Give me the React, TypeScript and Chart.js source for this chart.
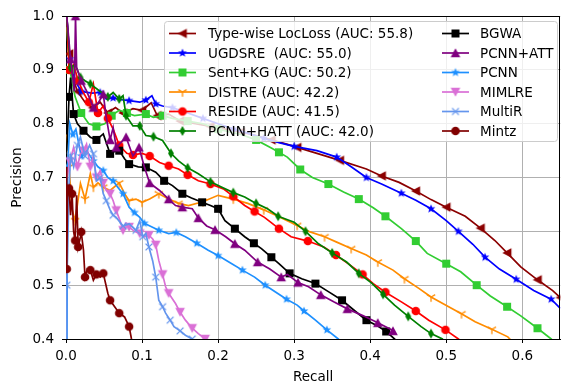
import React, { useEffect, useRef } from 'react';
import { Chart, registerables } from 'chart.js';

Chart.register(...registerables);

const FONT = "'DejaVu Sans', 'Liberation Sans', sans-serif";

// ---------- data (recall, precision) ----------
const typeWiseRecall = [0.001, 0.004, 0.008, 0.015, 0.025, 0.035, 0.045, 0.055, 0.065, 0.075, 0.088, 0.1, 0.112, 0.12, 0.135, 0.15, 0.17, 0.19, 0.21, 0.23, 0.25, 0.27, 0.29, 0.304, 0.33, 0.36, 0.395, 0.415, 0.438, 0.46, 0.48, 0.5, 0.525, 0.545, 0.564, 0.58, 0.598, 0.62, 0.64, 0.65];
const typeWisePrecision = [1.0, 0.93, 0.89, 0.86, 0.84, 0.83, 0.84, 0.82, 0.83, 0.82, 0.828, 0.825, 0.839, 0.815, 0.818, 0.805, 0.8, 0.795, 0.79, 0.785, 0.778, 0.77, 0.762, 0.756, 0.745, 0.732, 0.716, 0.703, 0.691, 0.675, 0.659, 0.645, 0.628, 0.606, 0.583, 0.56, 0.534, 0.51, 0.49, 0.477];

const ugdsreRecall = [0.001, 0.005, 0.012, 0.02, 0.034, 0.045, 0.053, 0.062, 0.07, 0.083, 0.097, 0.105, 0.113, 0.118, 0.127, 0.14, 0.16, 0.18, 0.2, 0.22, 0.24, 0.26, 0.28, 0.3, 0.33, 0.356, 0.375, 0.395, 0.415, 0.441, 0.46, 0.48, 0.5, 0.516, 0.535, 0.551, 0.57, 0.592, 0.615, 0.638, 0.65];
const ugdsrePrecision = [1.0, 0.92, 0.88, 0.86, 0.857, 0.858, 0.846, 0.848, 0.845, 0.843, 0.84, 0.844, 0.852, 0.837, 0.833, 0.83, 0.82, 0.81, 0.8, 0.79, 0.782, 0.773, 0.765, 0.758, 0.75, 0.738, 0.72, 0.7, 0.688, 0.671, 0.658, 0.642, 0.62, 0.6, 0.576, 0.552, 0.53, 0.511, 0.49, 0.474, 0.457];

const sentKgRecall = [0.001, 0.005, 0.012, 0.02, 0.03, 0.04, 0.051, 0.06, 0.07, 0.08, 0.09, 0.105, 0.115, 0.127, 0.14, 0.16, 0.18, 0.2, 0.23, 0.25, 0.27, 0.28, 0.291, 0.308, 0.324, 0.345, 0.365, 0.385, 0.404, 0.42, 0.441, 0.46, 0.475, 0.5, 0.519, 0.54, 0.558, 0.58, 0.598, 0.62, 0.638, 0.645];
const sentKgPrecision = [0.98, 0.9, 0.85, 0.82, 0.8, 0.795, 0.8, 0.815, 0.825, 0.82, 0.815, 0.818, 0.812, 0.815, 0.81, 0.805, 0.8, 0.79, 0.78, 0.77, 0.755, 0.747, 0.738, 0.715, 0.7, 0.688, 0.673, 0.66, 0.644, 0.628, 0.605, 0.582, 0.559, 0.54, 0.525, 0.5, 0.48, 0.46, 0.443, 0.42, 0.4, 0.39];

const distreRecall = [0.001, 0.004, 0.008, 0.012, 0.019, 0.025, 0.032, 0.036, 0.042, 0.049, 0.058, 0.07, 0.077, 0.083, 0.092, 0.1, 0.11, 0.122, 0.135, 0.148, 0.161, 0.18, 0.2, 0.22, 0.239, 0.26, 0.282, 0.304, 0.321, 0.34, 0.356, 0.375, 0.395, 0.41, 0.43, 0.445, 0.464, 0.48, 0.499, 0.52, 0.538, 0.56, 0.581, 0.59];
const distrePrecision = [0.78, 0.72, 0.64, 0.62, 0.689, 0.66, 0.707, 0.682, 0.69, 0.682, 0.676, 0.69, 0.67, 0.657, 0.66, 0.654, 0.66, 0.67, 0.66, 0.652, 0.648, 0.655, 0.667, 0.66, 0.652, 0.64, 0.626, 0.611, 0.599, 0.59, 0.58, 0.568, 0.556, 0.543, 0.528, 0.512, 0.494, 0.478, 0.463, 0.447, 0.432, 0.418, 0.404, 0.39];

const resideRecall = [0.001, 0.004, 0.01, 0.016, 0.022, 0.03, 0.036, 0.042, 0.049, 0.055, 0.062, 0.07, 0.08, 0.088, 0.1, 0.11, 0.123, 0.135, 0.148, 0.16, 0.174, 0.19, 0.207, 0.22, 0.235, 0.248, 0.261, 0.28, 0.296, 0.318, 0.339, 0.355, 0.371, 0.39, 0.404, 0.42, 0.441, 0.46, 0.477, 0.499, 0.516, 0.525];
const residePrecision = [1.0, 0.9, 0.91, 0.88, 0.86, 0.84, 0.874, 0.82, 0.833, 0.81, 0.79, 0.76, 0.745, 0.742, 0.745, 0.74, 0.728, 0.722, 0.716, 0.705, 0.694, 0.688, 0.679, 0.665, 0.648, 0.637, 0.626, 0.605, 0.59, 0.582, 0.571, 0.556, 0.54, 0.52, 0.503, 0.487, 0.469, 0.452, 0.435, 0.417, 0.4, 0.39];

const pcnnHattRecall = [0.001, 0.006, 0.012, 0.019, 0.025, 0.032, 0.045, 0.055, 0.062, 0.07, 0.075, 0.079, 0.088, 0.097, 0.105, 0.115, 0.127, 0.138, 0.148, 0.16, 0.174, 0.19, 0.205, 0.22, 0.235, 0.25, 0.265, 0.279, 0.3, 0.315, 0.332, 0.35, 0.369, 0.385, 0.402, 0.417, 0.432, 0.45, 0.467, 0.48, 0.495, 0.5];
const pcnnHattPrecision = [1.0, 0.904, 0.91, 0.886, 0.88, 0.874, 0.86, 0.85, 0.858, 0.846, 0.852, 0.815, 0.796, 0.796, 0.778, 0.776, 0.769, 0.745, 0.731, 0.718, 0.707, 0.692, 0.682, 0.672, 0.664, 0.652, 0.642, 0.628, 0.617, 0.6, 0.577, 0.56, 0.543, 0.522, 0.504, 0.483, 0.463, 0.442, 0.423, 0.41, 0.4, 0.39];

const bgwaRecall = [0.001, 0.004, 0.006, 0.01, 0.015, 0.023, 0.032, 0.04, 0.049, 0.058, 0.066, 0.07, 0.077, 0.083, 0.095, 0.105, 0.118, 0.129, 0.14, 0.153, 0.165, 0.179, 0.19, 0.2, 0.209, 0.222, 0.235, 0.247, 0.257, 0.27, 0.28, 0.294, 0.31, 0.328, 0.345, 0.363, 0.38, 0.395, 0.41, 0.421, 0.432, 0.44];
const bgwaPrecision = [0.75, 0.85, 0.886, 0.818, 0.8, 0.787, 0.775, 0.77, 0.781, 0.744, 0.75, 0.75, 0.735, 0.725, 0.72, 0.719, 0.71, 0.694, 0.685, 0.67, 0.662, 0.654, 0.648, 0.642, 0.62, 0.605, 0.59, 0.578, 0.568, 0.552, 0.54, 0.522, 0.512, 0.503, 0.488, 0.472, 0.452, 0.435, 0.424, 0.414, 0.4, 0.39];

const pcnnAttRecall = [0.001, 0.006, 0.011, 0.0125, 0.014, 0.02, 0.027, 0.036, 0.043, 0.049, 0.053, 0.058, 0.062, 0.066, 0.072, 0.079, 0.088, 0.096, 0.103, 0.11, 0.123, 0.135, 0.144, 0.153, 0.166, 0.174, 0.185, 0.196, 0.21, 0.222, 0.235, 0.252, 0.268, 0.283, 0.291, 0.305, 0.319, 0.335, 0.352, 0.37, 0.391, 0.41, 0.428, 0.43];
const pcnnAttPrecision = [1.0, 0.92, 0.86, 1.0, 0.904, 0.88, 0.861, 0.83, 0.84, 0.855, 0.812, 0.77, 0.793, 0.756, 0.765, 0.775, 0.74, 0.756, 0.72, 0.69, 0.676, 0.66, 0.648, 0.645, 0.642, 0.625, 0.61, 0.603, 0.59, 0.577, 0.565, 0.543, 0.53, 0.515, 0.52, 0.505, 0.497, 0.482, 0.469, 0.456, 0.443, 0.43, 0.417, 0.415];

const pcnnRecall = [0.0005, 0.002, 0.005, 0.009, 0.013, 0.02, 0.027, 0.036, 0.042, 0.049, 0.055, 0.062, 0.068, 0.075, 0.083, 0.09, 0.097, 0.103, 0.109, 0.122, 0.135, 0.145, 0.157, 0.172, 0.187, 0.2, 0.218, 0.232, 0.248, 0.262, 0.278, 0.29, 0.304, 0.313, 0.328, 0.343, 0.358, 0.365];
const pcnnPrecision = [0.0, 0.72, 0.8, 0.78, 0.79, 0.74, 0.75, 0.731, 0.72, 0.713, 0.7, 0.694, 0.682, 0.67, 0.645, 0.635, 0.626, 0.615, 0.611, 0.602, 0.596, 0.598, 0.59, 0.578, 0.565, 0.555, 0.54, 0.528, 0.515, 0.5, 0.485, 0.474, 0.463, 0.452, 0.435, 0.417, 0.4, 0.39];

const mimlreRecall = [0.001, 0.005, 0.01, 0.015, 0.019, 0.023, 0.027, 0.032, 0.036, 0.04, 0.045, 0.049, 0.053, 0.058, 0.062, 0.066, 0.071, 0.075, 0.079, 0.083, 0.09, 0.097, 0.103, 0.109, 0.114, 0.118, 0.122, 0.127, 0.131, 0.135, 0.144, 0.15, 0.157, 0.166, 0.174, 0.183, 0.19];
const mimlrePrecision = [0.7, 0.73, 0.756, 0.72, 0.744, 0.75, 0.762, 0.72, 0.74, 0.7, 0.713, 0.69, 0.676, 0.67, 0.657, 0.639, 0.62, 0.602, 0.615, 0.608, 0.6, 0.596, 0.59, 0.593, 0.586, 0.575, 0.546, 0.52, 0.497, 0.485, 0.466, 0.45, 0.435, 0.42, 0.41, 0.4, 0.39];

const multiRRecall = [0.0005, 0.001, 0.004, 0.006, 0.01, 0.015, 0.019, 0.025, 0.031, 0.036, 0.04, 0.045, 0.049, 0.053, 0.058, 0.062, 0.066, 0.075, 0.083, 0.092, 0.097, 0.101, 0.105, 0.109, 0.114, 0.118, 0.122, 0.127, 0.131, 0.137, 0.142, 0.15, 0.157, 0.166, 0.17];
const multiRPrecision = [0.0, 0.5, 0.68, 0.74, 0.72, 0.76, 0.775, 0.74, 0.76, 0.744, 0.694, 0.7, 0.67, 0.657, 0.64, 0.63, 0.626, 0.61, 0.614, 0.602, 0.62, 0.59, 0.596, 0.571, 0.545, 0.515, 0.472, 0.46, 0.448, 0.435, 0.423, 0.415, 0.407, 0.4, 0.39];

const mintzRecall = [0.0005, 0.001, 0.002, 0.004, 0.006, 0.008, 0.01, 0.012, 0.014, 0.016, 0.019, 0.02, 0.023, 0.025, 0.028, 0.032, 0.036, 0.04, 0.045, 0.049, 0.055, 0.058, 0.064, 0.07, 0.077, 0.083, 0.086, 0.088];
const mintzPrecision = [0.72, 0.53, 0.67, 0.68, 0.63, 0.67, 0.6, 0.583, 0.667, 0.571, 0.59, 0.599, 0.565, 0.515, 0.53, 0.528, 0.509, 0.52, 0.515, 0.522, 0.485, 0.472, 0.46, 0.448, 0.441, 0.423, 0.401, 0.39];

const seriesLabels = [
  'Type-wise LocLoss (AUC: 55.8)',
  'UGDSRE  (AUC: 55.0)',
  'Sent+KG (AUC: 50.2)',
  'DISTRE (AUC: 42.2)',
  'RESIDE (AUC: 41.5)',
  'PCNN+HATT (AUC: 42.0)',
  'BGWA',
  'PCNN+ATT',
  'PCNN',
  'MIMLRE',
  'MultiR',
  'Mintz',
];

const xTicks = [0, 0.1, 0.2, 0.3, 0.4, 0.5, 0.6];
const yTicks = [0.4, 0.5, 0.6, 0.7, 0.8, 0.9, 1.0];

// ---------- styles ----------
const seriesData = [
  [typeWiseRecall, typeWisePrecision],
  [ugdsreRecall, ugdsrePrecision],
  [sentKgRecall, sentKgPrecision],
  [distreRecall, distrePrecision],
  [resideRecall, residePrecision],
  [pcnnHattRecall, pcnnHattPrecision],
  [bgwaRecall, bgwaPrecision],
  [pcnnAttRecall, pcnnAttPrecision],
  [pcnnRecall, pcnnPrecision],
  [mimlreRecall, mimlrePrecision],
  [multiRRecall, multiRPrecision],
  [mintzRecall, mintzPrecision],
];
const colors = ['#8b0000', '#0000ff', '#32cd32', '#ff8c00', '#ff0000', '#008000', '#000000', '#800080', '#1e90ff', '#da70d6', '#6495ed', '#800000'];
const markers = ['triLeft', 'star', 'square', 'triDownLines', 'circle', 'thinDiamond', 'square', 'triUp', 'star', 'triDown', 'x', 'circle'];
const markEvery = [2, 2, 2, 2, 2, 2, 2, 2, 2, 2, 2, 2];

function makeMarker(shape: string, color: string): HTMLCanvasElement {
  const c = document.createElement('canvas');
  c.width = 16;
  c.height = 16;
  const g = c.getContext('2d')!;
  g.translate(8, 8);
  g.fillStyle = color;
  g.strokeStyle = color;
  g.lineWidth = 1.3;
  const r = 4.8;
  g.beginPath();
  switch (shape) {
    case 'triLeft':
      g.moveTo(-r, 0); g.lineTo(r * 0.9, -r); g.lineTo(r * 0.9, r); g.closePath(); g.fill();
      break;
    case 'triUp':
      g.moveTo(0, -r); g.lineTo(r, r * 0.9); g.lineTo(-r, r * 0.9); g.closePath(); g.fill();
      break;
    case 'triDown':
      g.moveTo(0, r); g.lineTo(r, -r * 0.9); g.lineTo(-r, -r * 0.9); g.closePath(); g.fill();
      break;
    case 'square':
      g.rect(-4, -4, 8, 8); g.fill();
      break;
    case 'circle':
      g.arc(0, 0, 4.3, 0, Math.PI * 2); g.fill();
      break;
    case 'thinDiamond':
      g.moveTo(0, -r * 1.05); g.lineTo(r * 0.62, 0); g.lineTo(0, r * 1.05); g.lineTo(-r * 0.62, 0); g.closePath(); g.fill();
      break;
    case 'star': {
      const ro = 4.6, ri = 2.0;
      for (let i = 0; i < 10; i++) {
        const rr = i % 2 === 0 ? ro : ri;
        const a = -Math.PI / 2 + (i * Math.PI) / 5;
        const px = Math.cos(a) * rr, py = Math.sin(a) * rr;
        if (i === 0) g.moveTo(px, py); else g.lineTo(px, py);
      }
      g.closePath(); g.fill();
      break;
    }
    case 'triDownLines':
      g.moveTo(0, 0); g.lineTo(0, r);
      g.moveTo(0, 0); g.lineTo(-r * 0.866, -r * 0.5);
      g.moveTo(0, 0); g.lineTo(r * 0.866, -r * 0.5);
      g.stroke();
      break;
    case 'x':
      g.moveTo(-3.4, -3.4); g.lineTo(3.4, 3.4); g.moveTo(3.4, -3.4); g.lineTo(-3.4, 3.4); g.stroke();
      break;
  }
  return c;
}

function makeLegendPlugin(markerImgs: HTMLCanvasElement[]) {
  return {
    id: 'mplLegend',
    afterDatasetsDraw(chart: any) {
      const { ctx, chartArea: a } = chart;
      ctx.save();
      // frame (top and right spines)
      ctx.strokeStyle = '#000';
      ctx.lineWidth = 1;
      ctx.beginPath();
      ctx.moveTo(Math.round(a.left), Math.round(a.top) + 0.5);
      ctx.lineTo(Math.round(a.right), Math.round(a.top) + 0.5);
      ctx.moveTo(Math.round(a.right) - 0.5, Math.round(a.top));
      ctx.lineTo(Math.round(a.right) - 0.5, Math.round(a.bottom));
      ctx.stroke();

      // legend box
      const bx = 164.5, by = 21.5, bw = 393, bh = 120;
      ctx.beginPath();
      if (ctx.roundRect) ctx.roundRect(bx, by, bw, bh, 3); else ctx.rect(bx, by, bw, bh);
      ctx.fillStyle = 'rgba(255,255,255,0.8)';
      ctx.fill();
      ctx.strokeStyle = '#cccccc';
      ctx.stroke();

      ctx.font = `13.5px ${FONT}`;
      ctx.textBaseline = 'middle';
      ctx.textAlign = 'left';
      seriesLabels.forEach((label, i) => {
        const col = i < 6 ? 0 : 1;
        const row = i % 6;
        const y = 33.5 + row * 19.5;
        const x0 = col === 0 ? 169 : 442;
        const x1 = x0 + 27;
        ctx.strokeStyle = colors[i];
        ctx.lineWidth = 1.7;
        ctx.beginPath();
        ctx.moveTo(x0, y);
        ctx.lineTo(x1, y);
        ctx.stroke();
        const img = markerImgs[i];
        ctx.drawImage(img, (x0 + x1) / 2 - img.width / 2, y - img.height / 2);
        ctx.fillStyle = '#000';
        ctx.fillText(label, col === 0 ? 208 : 480, y + 1);
      });
      ctx.restore();
    },
  };
}

export default function App() {
  const ref = useRef<HTMLCanvasElement | null>(null);
  useEffect(() => {
    if (!ref.current) return;
    const imgs = markers.map((m, i) => makeMarker(m, colors[i]));
    const datasets = seriesData.map(([rx, py], i) => ({
      label: seriesLabels[i],
      data: rx.map((x, k) => ({ x, y: py[k] })),
      borderColor: colors[i],
      backgroundColor: colors[i],
      borderWidth: 1.7,
      tension: 0,
      fill: false,
      pointStyle: imgs[i],
      pointRadius: (c: any) => (c.dataIndex % markEvery[i] === 1 ? 4 : 0),
      order: 12 - i,
    }));
    const chart = new Chart(ref.current, {
      type: 'line',
      data: { datasets },
      options: {
        animation: false,
        responsive: false,
        events: [],
        layout: { padding: { top: 15, right: 0, left: 0, bottom: 0 } },
        plugins: { legend: { display: false }, tooltip: { enabled: false } },
        scales: {
          x: {
            type: 'linear',
            min: 0,
            max: 0.65,
            afterFit: (s: any) => { s.height = 43; },
            afterBuildTicks: (s: any) => { s.ticks = xTicks.map((v) => ({ value: v })); },
            ticks: {
              callback: (v: any) => Number(v).toFixed(1),
              color: '#000',
              font: { family: FONT, size: 13.5 },
              padding: 5,
              maxRotation: 0,
              autoSkip: false,
            },
            grid: { color: '#b0b0b0', lineWidth: 1, tickColor: '#000', tickLength: 4 },
            border: { color: '#000', width: 1 },
            title: { display: true, text: 'Recall', color: '#000', font: { family: FONT, size: 13.5 }, padding: { top: 0, bottom: -4 } },
          },
          y: {
            type: 'linear',
            min: 0.4,
            max: 1.0,
            afterFit: (s: any) => { s.width = 66; },
            afterBuildTicks: (s: any) => { s.ticks = yTicks.map((v) => ({ value: v })); },
            ticks: {
              callback: (v: any) => Number(v).toFixed(1),
              color: '#000',
              font: { family: FONT, size: 13.5 },
              padding: 8,
            },
            grid: { color: '#b0b0b0', lineWidth: 1, tickColor: '#000', tickLength: 4 },
            border: { color: '#000', width: 1 },
            title: { display: true, text: 'Precision', color: '#000', font: { family: FONT, size: 13.5 }, padding: { top: 9, bottom: 0 } },
          },
        },
      },
      plugins: [makeLegendPlugin(imgs)],
    });
    return () => chart.destroy();
  }, []);
  return (
    <div style={{ position: 'fixed', left: 0, top: 0, width: 566, height: 382, background: '#fff' }}>
      <canvas ref={ref} width={566} height={382} style={{ display: 'block' }} />
    </div>
  );
}
